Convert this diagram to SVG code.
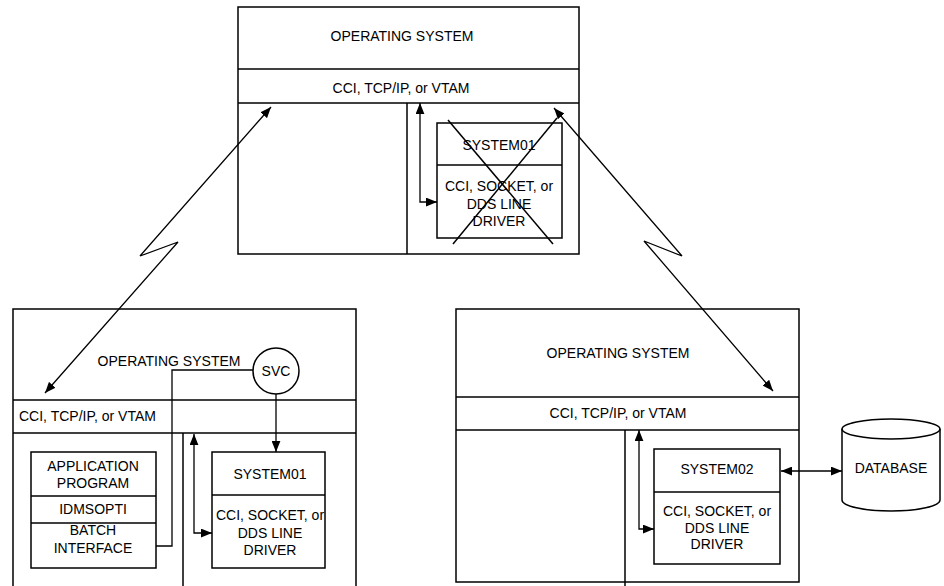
<svg xmlns="http://www.w3.org/2000/svg" width="944" height="586" viewBox="0 0 944 586">
<style>
.box{fill:none;stroke:#000;stroke-width:1.5}
.ln{fill:none;stroke:#000;stroke-width:1.5}
.cn{fill:none;stroke:#000;stroke-width:1.3}
.ar{marker-end:url(#ah)}
.dar{marker-start:url(#ah);marker-end:url(#ah)}
text{font-family:"Liberation Sans",Arial,sans-serif;font-size:14px;fill:#000;text-anchor:middle}
.l{text-anchor:start}
</style>
<defs>
<marker id="ah" viewBox="0 0 10 8" refX="10" refY="4" markerWidth="11" markerHeight="9" markerUnits="userSpaceOnUse" orient="auto-start-reverse">
<path d="M0,0 L10,4 L0,8 z" fill="#000"/>
</marker>
</defs>
<rect width="944" height="586" fill="#fff"/>

<g id="top-host">
<rect class="box" x="238" y="7" width="341" height="247"/>
<line class="ln" x1="238" y1="69" x2="579" y2="69"/>
<line class="ln" x1="238" y1="103" x2="579" y2="103"/>
<line class="ln" x1="407" y1="103" x2="407" y2="254"/>
<text x="402" y="41">OPERATING SYSTEM</text>
<text x="401" y="93">CCI, TCP/IP, or VTAM</text>
</g>
<g id="top-system01">
<rect class="box" x="437" y="123" width="125" height="115"/>
<line class="ln" x1="437" y1="165" x2="562" y2="165"/>
<text x="499" y="150">SYSTEM01</text>
<text x="499" y="191">CCI, SOCKET, or</text>
<text x="499" y="209">DDS LINE</text>
<text x="499" y="226">DRIVER</text>
<line class="ln" x1="448" y1="120" x2="553" y2="244"/>
<line class="ln" x1="557" y1="118" x2="453" y2="244"/>
</g>

<g id="left-host">
<path class="box" d="M13,590 V309 H356 V590"/>
<line class="ln" x1="13" y1="400" x2="356" y2="400"/>
<line class="ln" x1="13" y1="433" x2="356" y2="433"/>
<line class="ln" x1="183" y1="433" x2="183" y2="590"/>
<text x="169" y="366">OPERATING SYSTEM</text>
<text class="l" x="19" y="421">CCI, TCP/IP, or VTAM</text>
</g>
<g id="svc">
<circle cx="276" cy="371" r="23" fill="#fff" stroke="#000" stroke-width="1.5"/>
<text x="276" y="376">SVC</text>
</g>
<g id="app-stack">
<rect class="box" x="31" y="452" width="125" height="116"/>
<line class="ln" x1="31" y1="496" x2="156" y2="496"/>
<line class="ln" x1="31" y1="523" x2="156" y2="523"/>
<text x="93" y="471">APPLICATION</text>
<text x="93" y="488">PROGRAM</text>
<text x="93" y="514">IDMSOPTI</text>
<text x="93" y="535">BATCH</text>
<text x="93" y="553">INTERFACE</text>
</g>
<g id="left-system01">
<rect class="box" x="212" y="452" width="113" height="116"/>
<line class="ln" x1="212" y1="495" x2="325" y2="495"/>
<text x="270" y="479">SYSTEM01</text>
<text x="270" y="520">CCI, SOCKET, or</text>
<text x="270" y="538">DDS LINE</text>
<text x="270" y="555">DRIVER</text>
</g>

<g id="right-host">
<rect class="box" x="456" y="309" width="343" height="273"/>
<line class="ln" x1="456" y1="397" x2="799" y2="397"/>
<line class="ln" x1="456" y1="430" x2="799" y2="430"/>
<line class="ln" x1="625" y1="430" x2="625" y2="586"/>
<text x="618" y="358">OPERATING SYSTEM</text>
<text x="618" y="418">CCI, TCP/IP, or VTAM</text>
</g>
<g id="system02">
<rect class="box" x="654" y="449" width="126" height="115"/>
<line class="ln" x1="654" y1="492" x2="780" y2="492"/>
<text x="717" y="474">SYSTEM02</text>
<text x="717" y="516">CCI, SOCKET, or</text>
<text x="717" y="533">DDS LINE</text>
<text x="717" y="549">DRIVER</text>
</g>
<g id="database">
<path class="box" d="M842,429 A49,10 0 0 1 940,429 V500 A49,11 0 0 1 842,500 Z"/>
<path class="box" d="M842,429 A49,10 0 0 0 940,429"/>
<text x="891" y="473">DATABASE</text>
</g>

<g id="connectors">
<polyline class="cn dar" points="271,107 140,256 178,242 45,393"/>
<polyline class="cn dar" points="554,108 682,256 644,241 773,391"/>
<polyline class="cn dar" points="420,103 420,202 437,202"/>
<polyline class="cn dar" points="194,434 194,533 212,533"/>
<polyline class="cn dar" points="639,430 639,529 654,529"/>
<line class="cn dar" x1="781" y1="471" x2="842" y2="471"/>
<line class="cn ar" x1="276" y1="394" x2="276" y2="452"/>
<polyline class="cn" points="253,370 172,370 172,546 156,546"/>
</g>
</svg>
